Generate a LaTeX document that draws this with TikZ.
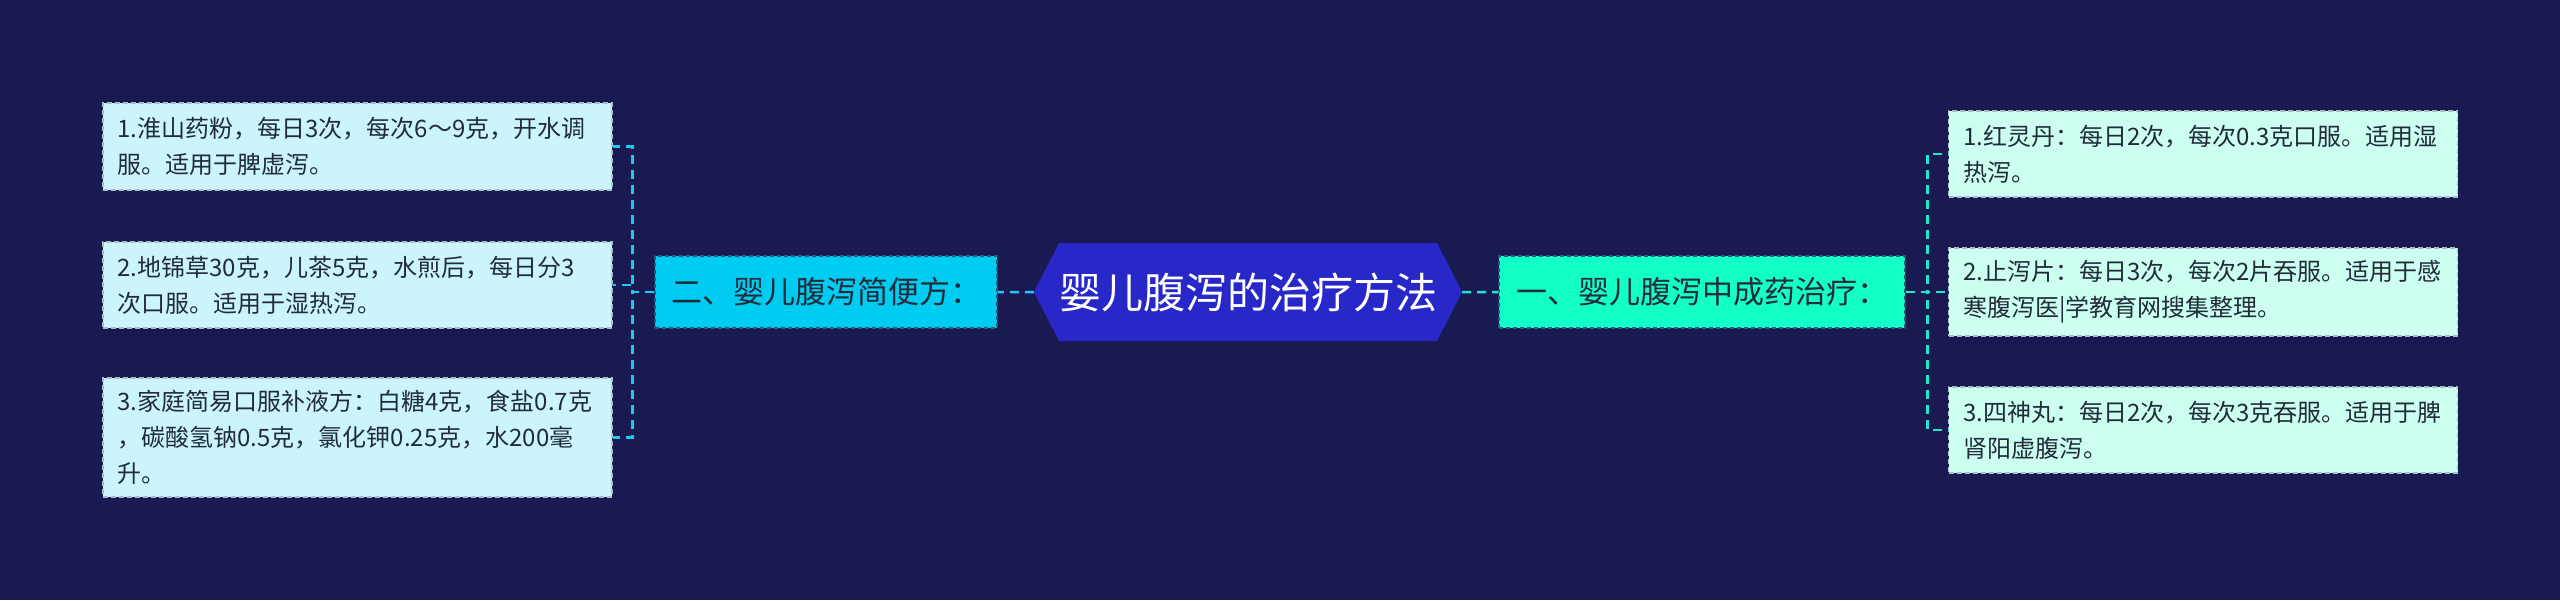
\documentclass[tikz,border=0pt]{standalone}
\usepackage{fontspec}
\setmainfont{Noto Sans CJK SC}
\usetikzlibrary{shapes.symbols}

\definecolor{bgnavy}{RGB}{26,26,82}
\definecolor{rootblue}{RGB}{40,40,200}
\definecolor{skyfill}{RGB}{0,204,242}
\definecolor{mintfill}{RGB}{18,255,200}
\definecolor{skyleaf}{RGB}{204,244,254}
\definecolor{mintleaf}{RGB}{204,255,240}
\definecolor{skyline}{RGB}{30,200,240}
\definecolor{mintline}{RGB}{30,230,200}
\definecolor{inkdark}{RGB}{32,44,58}
\definecolor{edgedark}{RGB}{40,90,120}
\definecolor{edgelight}{RGB}{170,190,200}

\begin{document}
\begin{tikzpicture}[x=1pt, y=-1pt,
						every node/.style={inner sep=0pt, text=inkdark},
						root/.style={signal, signal to=west and east, signal pointer angle=126,
							fill=rootblue, text=white, minimum width=416pt, minimum height=98pt,
							font=\fontsize{42}{48}\selectfont},
						branch/.style={draw=edgedark, line width=1.2pt, dash pattern=on 4pt off 3pt,
							minimum height=72pt, font=\fontsize{31}{36}\selectfont},
						leaf/.style={draw=edgelight, line width=1.2pt, dash pattern=on 5pt off 3pt,
							text width=480pt, inner xsep=14.5pt, align=left,
							font=\fontsize{24}{36}\selectfont},
						link/.style={line width=2.5pt, dash pattern=on 9pt off 6pt}]
					\fill [bgnavy] (0,0) rectangle (2560,600);

					\node [root] (R) at (1248,292) {婴儿腹泻的治疗方法};
					\node [branch, fill=skyfill, minimum width=342pt] (B2) at (826,292) {二、婴儿腹泻简便方：};
					\node [branch, fill=mintfill, minimum width=406pt] (B1) at (1702,292) {一、婴儿腹泻中成药治疗：};

					\node [leaf, fill=skyleaf, minimum height=87pt] (L1) at (357.5,146.5) {1.淮山药粉，每日3次，每次6～9克，开水调\\服。适用于脾虚泻。};
					\node [leaf, fill=skyleaf, minimum height=86pt] (L2) at (357.5,285) {2.地锦草30克，儿茶5克，水煎后，每日分3\\次口服。适用于湿热泻。};
					\node [leaf, fill=skyleaf, minimum height=119pt] (L3) at (357.5,437.5) {3.家庭简易口服补液方：白糖4克，食盐0.7克\\，碳酸氢钠0.5克，氯化钾0.25克，水200毫\\升。};

					\node [leaf, fill=mintleaf, minimum height=86pt] (M1) at (2203,154) {1.红灵丹：每日2次，每次0.3克口服。适用湿\\热泻。};
					\node [leaf, fill=mintleaf, minimum height=88pt] (M2) at (2203,292) {2.止泻片：每日3次，每次2片吞服。适用于感\\寒腹泻医|学教育网搜集整理。};
					\node [leaf, fill=mintleaf, minimum height=86pt] (M3) at (2203,430) {3.四神丸：每日2次，每次3克吞服。适用于脾\\肾阳虚腹泻。};

					\path [link, draw=skyline] (R) edge (B2);
					\path [link, draw=mintline] (R) edge (B1);

					\draw [link, draw=skyline] (B2.west) -- ++(-22,0) |- (L1.east);
					\draw [link, draw=skyline] (B2.west) -- ++(-22,0) |- (L2.east);
					\draw [link, draw=skyline] (B2.west) -- ++(-22,0) |- (L3.east);

					\draw [link, draw=mintline] (B1.east) -- ++(22,0) |- (M1.west);
					\draw [link, draw=mintline] (B1.east) -- ++(22,0) |- (M2.west);
					\draw [link, draw=mintline] (B1.east) -- ++(22,0) |- (M3.west);
				\end{tikzpicture}
\end{document}
